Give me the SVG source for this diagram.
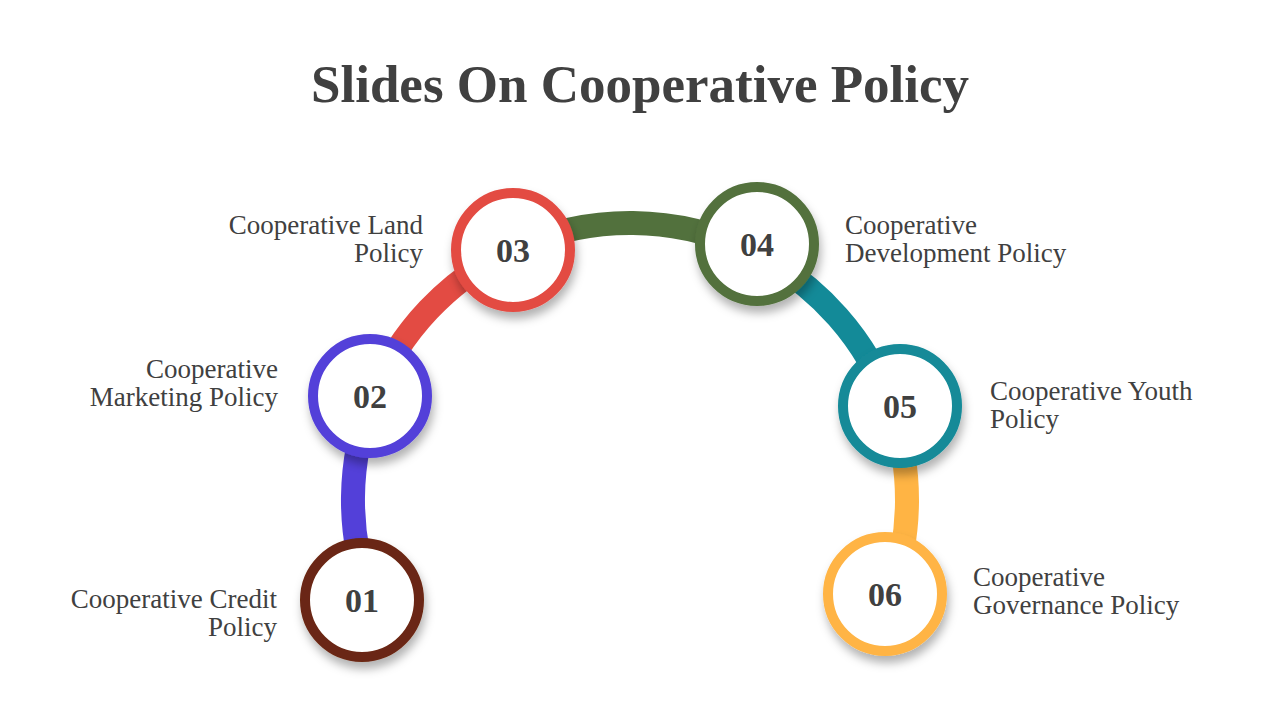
<svg xmlns="http://www.w3.org/2000/svg" width="1280" height="720" viewBox="0 0 1280 720">
<style>
.title{font-family:"Liberation Serif","Times New Roman",serif;font-weight:bold;font-size:53px;fill:#404040}
.lbl{font-family:"Liberation Serif","Times New Roman",serif;font-size:27px;fill:#404040}
.num{font-family:"Liberation Serif","Times New Roman",serif;font-weight:bold;font-size:34px;fill:#404040;text-anchor:middle}
.ring{fill:#ffffff;stroke-width:10;filter:url(#sh)}
.band{fill:none;stroke-width:24}
.r{text-anchor:end}
</style>
<defs>
<filter id="sh" x="-30%" y="-30%" width="160%" height="170%">
<feDropShadow dx="2" dy="7" stdDeviation="5" flood-color="#000000" flood-opacity="0.3"/>
</filter>
</defs>
<rect width="1280" height="720" fill="#ffffff"/>
<text class="title" x="640" y="102" text-anchor="middle">Slides On Cooperative Policy</text>
<g id="connectors">
<path class="band" stroke="#5340D9" d="M370.5,597 A277,277 0 0 1 372.8,397.1"/>
<path class="band" stroke="#E34B43" d="M372.8,397.1 A277,277 0 0 1 512.5,249.2"/>
<path class="band" stroke="#52713D" d="M512.5,249.2 A277,277 0 0 1 753.2,251.9"/>
<path class="band" stroke="#138A98" d="M753.2,251.9 A277,277 0 0 1 891.6,408.9"/>
<path class="band" stroke="#FFB444" d="M891.6,408.9 A277,277 0 0 1 890.1,595.2"/>
</g>
<g id="node01">
<circle class="ring" cx="362" cy="600" r="57" stroke="#6B2712"/>
<text class="num" x="362" y="612">01</text>
<text class="lbl r" x="277" y="608">Cooperative Credit</text>
<text class="lbl r" x="277" y="636">Policy</text>
</g>
<g id="node02">
<circle class="ring" cx="370" cy="396" r="57" stroke="#5340D9"/>
<text class="num" x="370" y="408">02</text>
<text class="lbl r" x="278" y="378">Cooperative</text>
<text class="lbl r" x="278" y="406">Marketing Policy</text>
</g>
<g id="node03">
<circle class="ring" cx="513" cy="250" r="57" stroke="#E34B43"/>
<text class="num" x="513" y="262">03</text>
<text class="lbl r" x="423" y="234">Cooperative Land</text>
<text class="lbl r" x="423" y="262">Policy</text>
</g>
<g id="node04">
<circle class="ring" cx="757" cy="244" r="57" stroke="#52713D"/>
<text class="num" x="757" y="256">04</text>
<text class="lbl" x="845" y="234">Cooperative</text>
<text class="lbl" x="845" y="262">Development Policy</text>
</g>
<g id="node05">
<circle class="ring" cx="900" cy="406" r="57" stroke="#138A98"/>
<text class="num" x="900" y="418">05</text>
<text class="lbl" x="990" y="400">Cooperative Youth</text>
<text class="lbl" x="990" y="428">Policy</text>
</g>
<g id="node06">
<circle class="ring" cx="885" cy="594" r="57" stroke="#FFB444"/>
<text class="num" x="885" y="606">06</text>
<text class="lbl" x="973" y="586">Cooperative</text>
<text class="lbl" x="973" y="614">Governance Policy</text>
</g>
</svg>
